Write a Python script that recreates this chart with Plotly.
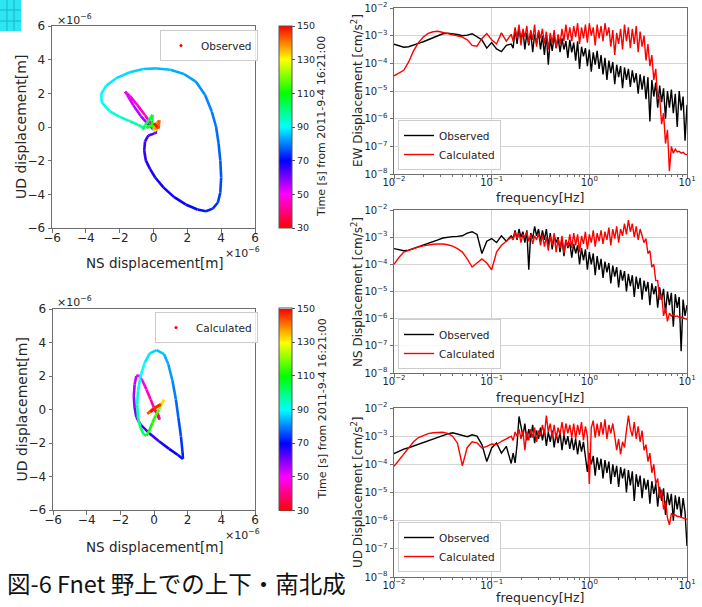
import numpy as np
import plotly.graph_objects as go
from plotly.colors import sample_colorscale

W, H = 702, 607

# ---------------- hodogram data (displacement in units of 1e-6 m, time in s) ----------------
obs_t = [30, 33, 36, 39, 42, 45, 47, 49, 50.5, 52, 54, 56, 58, 60, 62, 63, 64, 65, 66, 67,
         67.5, 68, 68.5, 69, 70, 71, 72, 73, 74, 75, 76, 77, 78, 79, 80, 81, 82, 83, 84, 85,
         86, 87, 88, 89, 90, 91, 92, 93, 95, 97, 99, 101, 103, 105, 106, 107, 108, 110, 112, 115,
         118, 122, 126, 130, 134, 138, 141, 144, 147, 150]
obs_ns = [0.15, 0.3, 0.05, 0.25, -0.1, -0.5, -0.95, -1.4, -1.68, -1.55, -1.2, -0.75, -0.35, -0.05, 0.2, 0.05, -0.3, -0.5, -0.55, -0.45,
          -0.2, 0.1, 0.6, 1.2, 1.9, 2.6, 3.1, 3.5, 3.8, 3.95, 4.0, 3.95, 3.85, 3.7, 3.45, 3.05, 2.5, 1.8, 1.0, 0.2,
          -0.6, -1.4, -2.2, -2.8, -3.1, -3.05, -2.6, -2.0, -1.4, -0.9, -0.55, -0.65, -0.5, -0.25, -0.05, -0.1, -0.05, -0.4, -0.25, 0.05,
          0.0, 0.15, 0.05, 0.2, 0.25, 0.1, 0.35, 0.3, 0.05, 0.2]
obs_ud = [0.05, 0.35, -0.1, 0.2, 0.15, 0.7, 1.3, 1.85, 2.1, 1.9, 1.3, 0.65, 0.2, -0.1, -0.3, -0.38, -0.5, -0.85, -1.4, -2.0,
          -2.5, -3.0, -3.6, -4.15, -4.6, -4.9, -5.0, -4.85, -4.5, -3.9, -3.0, -2.0, -1.0, 0.0, 0.9, 1.9, 2.7, 3.15, 3.4, 3.48,
          3.45, 3.25, 2.9, 2.45, 1.95, 1.45, 0.95, 0.6, 0.35, 0.12, -0.05, -0.15, 0.1, 0.45, 0.72, 0.4, 0.1, -0.05, 0.1, 0.0,
          -0.2, 0.15, -0.25, -0.1, 0.3, -0.15, 0.4, -0.1, 0.2, 0.0]

calc_t = [30, 33, 36, 39, 41, 43, 45, 47, 49, 51, 53, 55, 57, 59, 61, 63, 65, 67, 69, 71,
          72, 73, 75, 77, 79, 81, 83, 84.5, 86, 87.5, 89, 91, 93, 95, 98, 101, 104, 106, 108, 111,
          114, 118, 122, 127, 131, 134, 137, 140, 142, 144, 146, 148, 150]
calc_ns = [0.0, 0.2, 0.3, 0.32, 0.2, 0.0, -0.2, -0.45, -0.7, -0.9, -1.05, -1.15, -1.2, -1.15, -1.05, -0.8, -0.3, 0.3, 0.9, 1.4,
           1.72, 1.7, 1.6, 1.45, 1.3, 1.1, 0.85, 0.6, 0.15, -0.25, -0.55, -0.8, -0.95, -1.0, -0.95, -0.8, -0.6, -0.45, -0.3, -0.1,
           0.1, 0.3, 0.45, 0.55, 0.6, 0.45, 0.1, -0.3, -0.4, 0.0, 0.4, 0.0, -0.2]
calc_ud = [0.0, -0.2, -0.45, -0.6, -0.3, 0.1, 0.6, 1.2, 1.75, 2.05, 2.0, 1.5, 0.8, 0.1, -0.45, -0.9, -1.4, -1.9, -2.35, -2.7,
           -2.95, -2.6, -1.6, -0.5, 0.6, 1.7, 2.7, 3.3, 3.55, 3.35, 2.8, 2.0, 1.1, 0.3, -0.5, -1.1, -1.5, -1.55, -1.3, -0.8,
           -0.35, 0.0, 0.3, 0.5, 0.58, 0.35, 0.1, -0.2, -0.25, 0.1, 0.3, 0.05, -0.15]

# ---------------- spectra data: log10 amplitude [cm/s^2] ----------------
# smooth low-frequency part: log10 f = -2.00 ... -0.80 (step 0.05)
ew_obs_lo = [-3.31, -3.37, -3.42, -3.40, -3.33, -3.28, -3.22, -3.15, -3.07, -3.00, -2.93, -2.91, -2.93,
             -2.96, -3.00, -2.98, -2.93, -3.05, -3.15, -3.45, -3.25, -3.48, -3.58, -3.35, -3.30]
ew_cal_lo = [-4.45, -4.35, -4.25, -3.95, -3.55, -3.25, -3.05, -2.92, -2.86, -2.84, -2.88, -2.93, -2.97,
             -3.00, -3.05, -3.15, -3.35, -3.38, -3.10, -2.92, -3.15, -3.30, -2.90, -3.20, -2.95]
ns_obs_lo = [-3.42, -3.46, -3.50, -3.48, -3.42, -3.36, -3.30, -3.24, -3.18, -3.10, -3.03, -3.00, -2.98,
             -2.97, -2.95, -2.85, -2.80, -2.90, -3.60, -3.15, -3.05, -3.20, -2.95, -3.15, -2.95]
ns_cal_lo = [-4.00, -3.75, -3.55, -3.48, -3.42, -3.36, -3.32, -3.28, -3.26, -3.25, -3.25, -3.28, -3.33,
             -3.42, -3.55, -3.80, -4.10, -3.95, -3.80, -3.95, -4.20, -3.55, -3.30, -3.15, -3.00]
ud_obs_lo = [-3.62, -3.53, -3.46, -3.41, -3.35, -3.28, -3.22, -3.15, -3.10, -3.05, -2.98, -2.92, -2.88,
             -2.92, -2.97, -3.02, -2.95, -3.00, -3.30, -3.90, -3.42, -3.24, -3.60, -3.36, -3.97]
ud_cal_lo = [-4.07, -3.85, -3.65, -3.45, -3.20, -3.05, -2.97, -2.91, -2.88, -2.86, -2.86, -2.90, -3.00,
             -3.25, -4.05, -3.40, -3.20, -3.24, -3.42, -3.36, -3.28, -3.30, -3.18, -3.10, -3.00]

# noisy part: log10 f = -0.78 ... 1.00 (step 0.02)
ew_obs_hi = [-3.45, -2.75, -3.3, -2.7, -3.2, -2.8, -3.5, -2.9, -3.35, -2.85, -3.6, -2.95, -3.3, -2.85, -3.5,
             -3.0, -3.7, -2.95, -4.05, -3.1, -3.55, -3.0, -3.45, -3.05, -3.6, -3.1, -3.5, -3.2, -3.8, -3.15,
             -3.6, -3.25, -3.9, -3.2, -4.2, -3.4, -3.75, -3.45, -4.1, -3.5, -4.3, -3.6, -4.05, -3.55, -4.2,
             -3.7, -4.4, -3.8, -4.6, -3.9, -4.35, -3.95, -4.75, -4.05, -4.5, -4.1, -4.9, -4.15, -4.6, -4.2,
             -4.85, -4.25, -4.7, -4.35, -5.1, -4.4, -4.95, -4.45, -5.3, -4.5, -6.1, -4.6, -5.2, -4.7, -5.6,
             -4.8, -5.4, -4.9, -6.0, -5.0, -5.6, -4.95, -5.8, -5.1, -6.3, -5.0, -5.7, -5.2, -6.8, -5.5]
ew_cal_hi = [-3.2, -2.7, -3.1, -2.6, -3.35, -2.75, -3.05, -2.65, -3.3, -2.8, -3.15, -2.6, -3.4, -2.8, -3.1,
             -2.75, -3.3, -2.85, -3.5, -2.9, -3.25, -2.8, -3.45, -2.95, -3.3, -2.75, -3.2, -2.6, -3.15, -2.7,
             -3.2, -2.65, -3.05, -2.55, -3.3, -2.7, -3.1, -2.6, -3.25, -2.55, -3.0, -2.7, -3.35, -2.6, -3.1,
             -2.65, -3.2, -2.55, -3.0, -2.7, -3.4, -2.8, -3.7, -2.9, -3.3, -2.75, -3.5, -2.6, -3.2, -2.7,
             -3.45, -2.75, -3.3, -2.65, -3.6, -2.85, -3.4, -3.0, -3.9, -3.3, -4.1, -3.7, -4.6, -4.2, -5.3,
             -5.2, -6.2, -5.8, -6.9, -6.4, -7.9, -7.0, -7.25, -7.1, -7.2, -7.18, -7.25, -7.22, -7.28, -7.3]
ns_obs_hi = [-3.05, -2.75, -3.1, -2.7, -3.0, -2.8, -3.2, -2.75, -4.2, -2.85, -3.05, -2.6, -2.95, -2.7, -3.15,
             -2.75, -3.1, -2.7, -3.3, -2.85, -3.45, -2.95, -3.2, -3.0, -3.55, -3.05, -3.7, -3.1, -3.4, -3.2,
             -3.75, -3.25, -3.6, -3.3, -4.0, -3.4, -3.85, -3.45, -4.2, -3.55, -4.0, -3.6, -4.4, -3.7, -4.2,
             -3.8, -4.5, -3.9, -4.3, -3.95, -4.7, -4.05, -4.45, -4.1, -4.85, -4.2, -4.6, -4.25, -5.0, -4.35,
             -4.8, -4.4, -5.2, -4.45, -4.9, -4.5, -5.3, -4.6, -5.0, -4.65, -5.5, -4.7, -5.1, -4.8, -5.6,
             -4.85, -5.3, -4.9, -5.8, -5.0, -5.5, -5.05, -6.3, -5.1, -5.6, -5.2, -7.2, -5.3, -5.9, -5.5]
ns_cal_hi = [-3.1, -2.8, -3.05, -2.85, -3.2, -2.9, -3.0, -2.8, -3.15, -2.9, -3.25, -2.95, -3.1, -2.85, -3.3,
             -2.9, -3.35, -3.0, -3.5, -2.95, -3.3, -2.85, -3.55, -3.05, -3.4, -2.95, -3.6, -3.1, -3.35, -2.9,
             -3.4, -2.85, -3.3, -2.9, -3.55, -2.95, -3.25, -2.8, -3.45, -2.9, -3.2, -2.75, -3.35, -2.85, -3.15,
             -2.75, -3.25, -2.8, -3.1, -2.65, -3.3, -2.7, -3.05, -2.6, -3.2, -2.7, -2.95, -2.5, -2.9, -2.37,
             -2.8, -2.5, -3.0, -2.6, -3.1, -2.7, -2.95, -3.2, -3.05, -3.6, -3.5, -4.1, -4.0, -4.6, -4.6,
             -5.3, -5.1, -5.9, -5.6, -6.1, -5.8, -5.9, -5.85, -5.92, -5.9, -5.95, -5.95, -5.98, -6.0, -6.02]
ud_obs_hi = [-3.6, -3.95, -3.3, -2.3, -2.7, -3.0, -2.55, -3.15, -2.75, -3.05, -2.6, -3.25, -2.8, -3.1, -2.7,
             -3.15, -2.75, -3.35, -2.85, -3.2, -2.8, -3.4, -2.9, -3.25, -2.85, -3.5, -2.95, -3.3, -3.0, -3.45,
             -3.05, -3.5, -3.1, -3.65, -3.15, -3.55, -3.2, -3.8, -4.27, -3.6, -4.0, -3.7, -4.4, -3.75, -4.2,
             -3.8, -4.5, -3.85, -4.3, -3.9, -4.7, -4.0, -4.45, -4.05, -4.8, -4.1, -4.5, -4.15, -5.0, -4.2,
             -4.75, -4.25, -5.3, -4.35, -4.8, -4.4, -5.2, -4.5, -4.9, -4.55, -5.4, -4.6, -5.05, -4.7, -5.5,
             -4.8, -5.3, -4.85, -5.8, -5.0, -5.45, -5.05, -6.0, -5.1, -5.6, -5.15, -5.9, -5.2, -5.7, -6.9]
ud_cal_hi = [-3.15, -2.85, -3.0, -2.75, -3.1, -2.8, -3.5, -2.85, -3.15, -2.75, -3.05, -2.7, -3.2, -2.8, -3.0,
             -2.6, -2.95, -2.27, -2.85, -2.55, -3.05, -2.6, -3.1, -2.7, -2.95, -2.5, -3.0, -2.55, -2.9, -2.6,
             -3.05, -2.55, -3.1, -2.6, -2.95, -2.5, -3.15, -2.65, -3.0, -4.7, -2.7, -2.45, -3.05, -2.55, -3.0,
             -2.5, -2.95, -2.4, -3.1, -2.6, -2.9, -2.55, -3.0, -3.5, -3.1, -3.65, -3.2, -3.4, -2.8, -2.27,
             -2.75, -3.0, -2.5, -3.1, -2.65, -3.2, -2.8, -3.5, -3.3, -3.9, -3.6, -4.3, -4.0, -4.7, -4.5,
             -5.2, -4.9, -5.6, -5.3, -5.9, -6.15, -5.75, -5.8, -5.8, -5.85, -5.85, -5.88, -5.9, -5.93, -5.95]

TMIN, TMAX = 30, 150
CSCALE = [[0, '#ff0000'], [1/6, '#ff00ff'], [2/6, '#0000ff'], [3/6, '#00ffff'],
          [4/6, '#00ff00'], [5/6, '#ffff00'], [1, '#ff0000']]

FONT = "DejaVu Sans"
TXT = "#262626"
FRAME = "#6e6e6e"


def P(px, py):
    return px / W, 1 - py / H


fig = go.Figure()


def add_path(ts, xs, ys, xa, ya):
    for i in range(len(ts) - 1):
        tm = 0.5 * (ts[i] + ts[i + 1])
        col = sample_colorscale(CSCALE, [(tm - TMIN) / (TMAX - TMIN)])[0]
        fig.add_trace(go.Scatter(x=[xs[i], xs[i + 1]], y=[ys[i], ys[i + 1]], mode='lines',
                                 line=dict(color=col, width=2.6), xaxis=xa, yaxis=ya,
                                 showlegend=False, hoverinfo='skip'))


add_path(obs_t, obs_ns, obs_ud, 'x', 'y')
add_path(calc_t, calc_ns, calc_ud, 'x2', 'y2')

# legend entries + colorbars for the hodograms
for name, xa, ya, leg, cy in [("Observed", 'x', 'y', 'legend', 127),
                              ("Calculated", 'x2', 'y2', 'legend2', 409.5)]:
    fig.add_trace(go.Scatter(x=[None], y=[None], mode='markers', name=name,
                             marker=dict(color='red', size=3), xaxis=xa, yaxis=ya,
                             legend=leg, showlegend=True))
    fig.add_trace(go.Scatter(x=[-100], y=[-100], mode='markers', xaxis=xa, yaxis=ya,
                             showlegend=False, hoverinfo='skip',
                             marker=dict(color=[TMIN], cmin=TMIN, cmax=TMAX, colorscale=CSCALE,
                                         size=1, showscale=True,
                                         colorbar=dict(x=279 / W, xanchor='left', xpad=0, ypad=0,
                                                       y=1 - cy / H, yanchor='middle',
                                                       len=202 / H, lenmode='fraction',
                                                       thickness=13, thicknessmode='pixels',
                                                       outlinewidth=1, outlinecolor='#555',
                                                       tickvals=[30, 50, 70, 90, 110, 130, 150],
                                                       ticks='outside', ticklen=3, tickcolor='#555',
                                                       tickfont=dict(family=FONT, size=9.5, color=TXT)))))

# spectra
lo_logf = np.linspace(-2.0, -0.80, len(ew_obs_lo))
hi_logf = np.linspace(-0.78, 1.00, len(ew_obs_hi))
freq = 10 ** np.concatenate([lo_logf, hi_logf])

spectra = [
    (ew_obs_lo + ew_obs_hi, ew_cal_lo + ew_cal_hi, 'x3', 'y3', 'legend3'),
    (ns_obs_lo + ns_obs_hi, ns_cal_lo + ns_cal_hi, 'x4', 'y4', 'legend4'),
    (ud_obs_lo + ud_obs_hi, ud_cal_lo + ud_cal_hi, 'x5', 'y5', 'legend5'),
]
for obs, cal, xa, ya, leg in spectra:
    fig.add_trace(go.Scatter(x=freq, y=10 ** np.array(obs), mode='lines', name='Observed',
                             line=dict(color='black', width=1.4), xaxis=xa, yaxis=ya, legend=leg))
    fig.add_trace(go.Scatter(x=freq, y=10 ** np.array(cal), mode='lines', name='Calculated',
                             line=dict(color='#ff0000', width=1.4), xaxis=xa, yaxis=ya, legend=leg))

# ---------------- layout ----------------
hodo_ticks = [-6, -4, -2, 0, 2, 4, 6]


def hodo_axis(dom, anchor, is_x):
    d = dict(domain=dom, anchor=anchor, range=[-6, 6], tickvals=hodo_ticks,
             showgrid=False, zeroline=False, showline=True, mirror=True,
             linecolor=FRAME, linewidth=1, ticks='outside', ticklen=3.5, tickcolor=FRAME,
             tickfont=dict(family=FONT, size=12, color=TXT))
    if is_x:
        d['ticklabelstandoff'] = -5
    return d


x_major = [0.01, 0.1, 1, 10]
x_text = ["10<sup>−2</sup>", "10<sup>−1</sup>", "10<sup>0</sup>", "10<sup>1</sup>"]
x_minor = [m * 10.0 ** e for e in range(-2, 1) for m in range(2, 10)]
y_major = [10.0 ** e for e in range(-8, -1)]
y_text = ["10<sup>−%d</sup>" % (-e) for e in range(-8, -1)]


def spec_x(anchor):
    return dict(domain=[394 / W, 687 / W], anchor=anchor, type='log', range=[-2, 1],
                tickvals=x_major, ticktext=x_text, showgrid=True, gridcolor='#d4d4d4', gridwidth=1,
                zeroline=False, showline=True, mirror=True, linecolor=FRAME, linewidth=1,
                ticks='outside', ticklen=3.5, tickcolor=FRAME, ticklabelstandoff=-5,
                minor=dict(tickmode='array', tickvals=x_minor, ticks='outside', ticklen=2,
                           tickcolor=FRAME, showgrid=False),
                tickfont=dict(family=FONT, size=10, color=TXT))


def spec_y(dom, anchor):
    return dict(domain=dom, anchor=anchor, type='log', range=[-8, -2],
                tickvals=y_major, ticktext=y_text, showgrid=True, gridcolor='#d4d4d4', gridwidth=1,
                zeroline=False, showline=True, mirror=True, linecolor=FRAME, linewidth=1,
                ticks='outside', ticklen=3.5, tickcolor=FRAME,
                tickfont=dict(family=FONT, size=10, color=TXT))


def leg(px, py, size, yanchor='top'):
    x, y = P(px, py)
    return dict(x=x, y=y, xanchor='left', yanchor=yanchor, bgcolor='rgba(255,255,255,0.85)',
                bordercolor='#cccccc', borderwidth=1, font=dict(family=FONT, size=size, color=TXT),
                tracegroupgap=0, itemwidth=30)


fig.update_layout(
    width=W, height=H, margin=dict(l=0, r=0, t=0, b=0, autoexpand=False),
    paper_bgcolor='white', plot_bgcolor='white',
    font=dict(family=FONT, color=TXT),
    xaxis=hodo_axis([52 / W, 255 / W], 'y', True),
    yaxis=hodo_axis([1 - 228 / H, 1 - 26 / H], 'x', False),
    xaxis2=hodo_axis([53 / W, 255 / W], 'y2', True),
    yaxis2=hodo_axis([1 - 510 / H, 1 - 309 / H], 'x2', False),
    xaxis3=spec_x('y3'), yaxis3=spec_y([1 - 174 / H, 1 - 8 / H], 'x3'),
    xaxis4=spec_x('y4'), yaxis4=spec_y([1 - 373 / H, 1 - 210 / H], 'x4'),
    xaxis5=spec_x('y5'), yaxis5=spec_y([1 - 577 / H, 1 - 408 / H], 'x5'),
    legend=leg(160, 30, 10.5),
    legend2=leg(155, 312, 10.5),
    legend3=leg(398, 170, 10.5, 'bottom'),
    legend4=leg(398, 369, 10.5, 'bottom'),
    legend5=leg(398, 572, 10.5, 'bottom'),
    showlegend=True,
)

annots = []


def txt(px, py, s, size, angle=0, xanchor='center', family=FONT, color=TXT):
    x, y = P(px, py)
    annots.append(dict(x=x, y=y, xref='paper', yref='paper', text=s, showarrow=False,
                       textangle=angle, xanchor=xanchor, yanchor='middle',
                       font=dict(family=family, size=size, color=color)))


# hodogram labels
for top, bot, cy, xl in [(19, 228, 127, 263), (301, 510, 409.5, 547)]:
    txt(55, top, "×10<sup>−6</sup>", 11, xanchor='left')
    txt(223, bot + 24, "×10<sup>−6</sup>", 11, xanchor='left')
    txt(21, cy, "UD displacement[m]", 14, angle=-90)
    txt(155, xl, "NS displacement[m]", 13.5)
    txt(322, cy, "Time [s] from 2011-9-4 16:21:00", 11, angle=-90)

# spectra labels
for cy, fy, lab in [(91, 197, "EW Displacement [cm/s<sup>2</sup>]"),
                    (292, 397, "NS Displacement [cm/s<sup>2</sup>]"),
                    (493, 597, "UD Displacement [cm/s<sup>2</sup>]")]:
    txt(357, cy, lab, 12, angle=-90)
    txt(540, fy, "frequency[Hz]", 12.5)

# caption
txt(5, 583, "図-6 Fnet 野上での上下・南北成", 23.5, xanchor='left', family="Noto Sans CJK JP", color='#111')

fig.update_layout(annotations=annots)

# small cyan icon in the top-left corner
fig.add_shape(type='rect', xref='paper', yref='paper', x0=0, x1=21 / W, y0=1 - 31 / H, y1=1,
              fillcolor='#2de6f2', line=dict(width=0), layer='above')
for gx in [7, 14]:
    fig.add_shape(type='line', xref='paper', yref='paper', x0=gx / W, x1=gx / W, y0=1 - 31 / H, y1=1,
                  line=dict(color='#19b5c8', width=1))
for gy in [10, 21]:
    fig.add_shape(type='line', xref='paper', yref='paper', x0=0, x1=21 / W, y0=1 - gy / H, y1=1 - gy / H,
                  line=dict(color='#19b5c8', width=1))

fig.write_html("out.html", config={'displayModeBar': False},
               post_script="document.body.style.margin='0px';document.body.style.padding='0px';")
